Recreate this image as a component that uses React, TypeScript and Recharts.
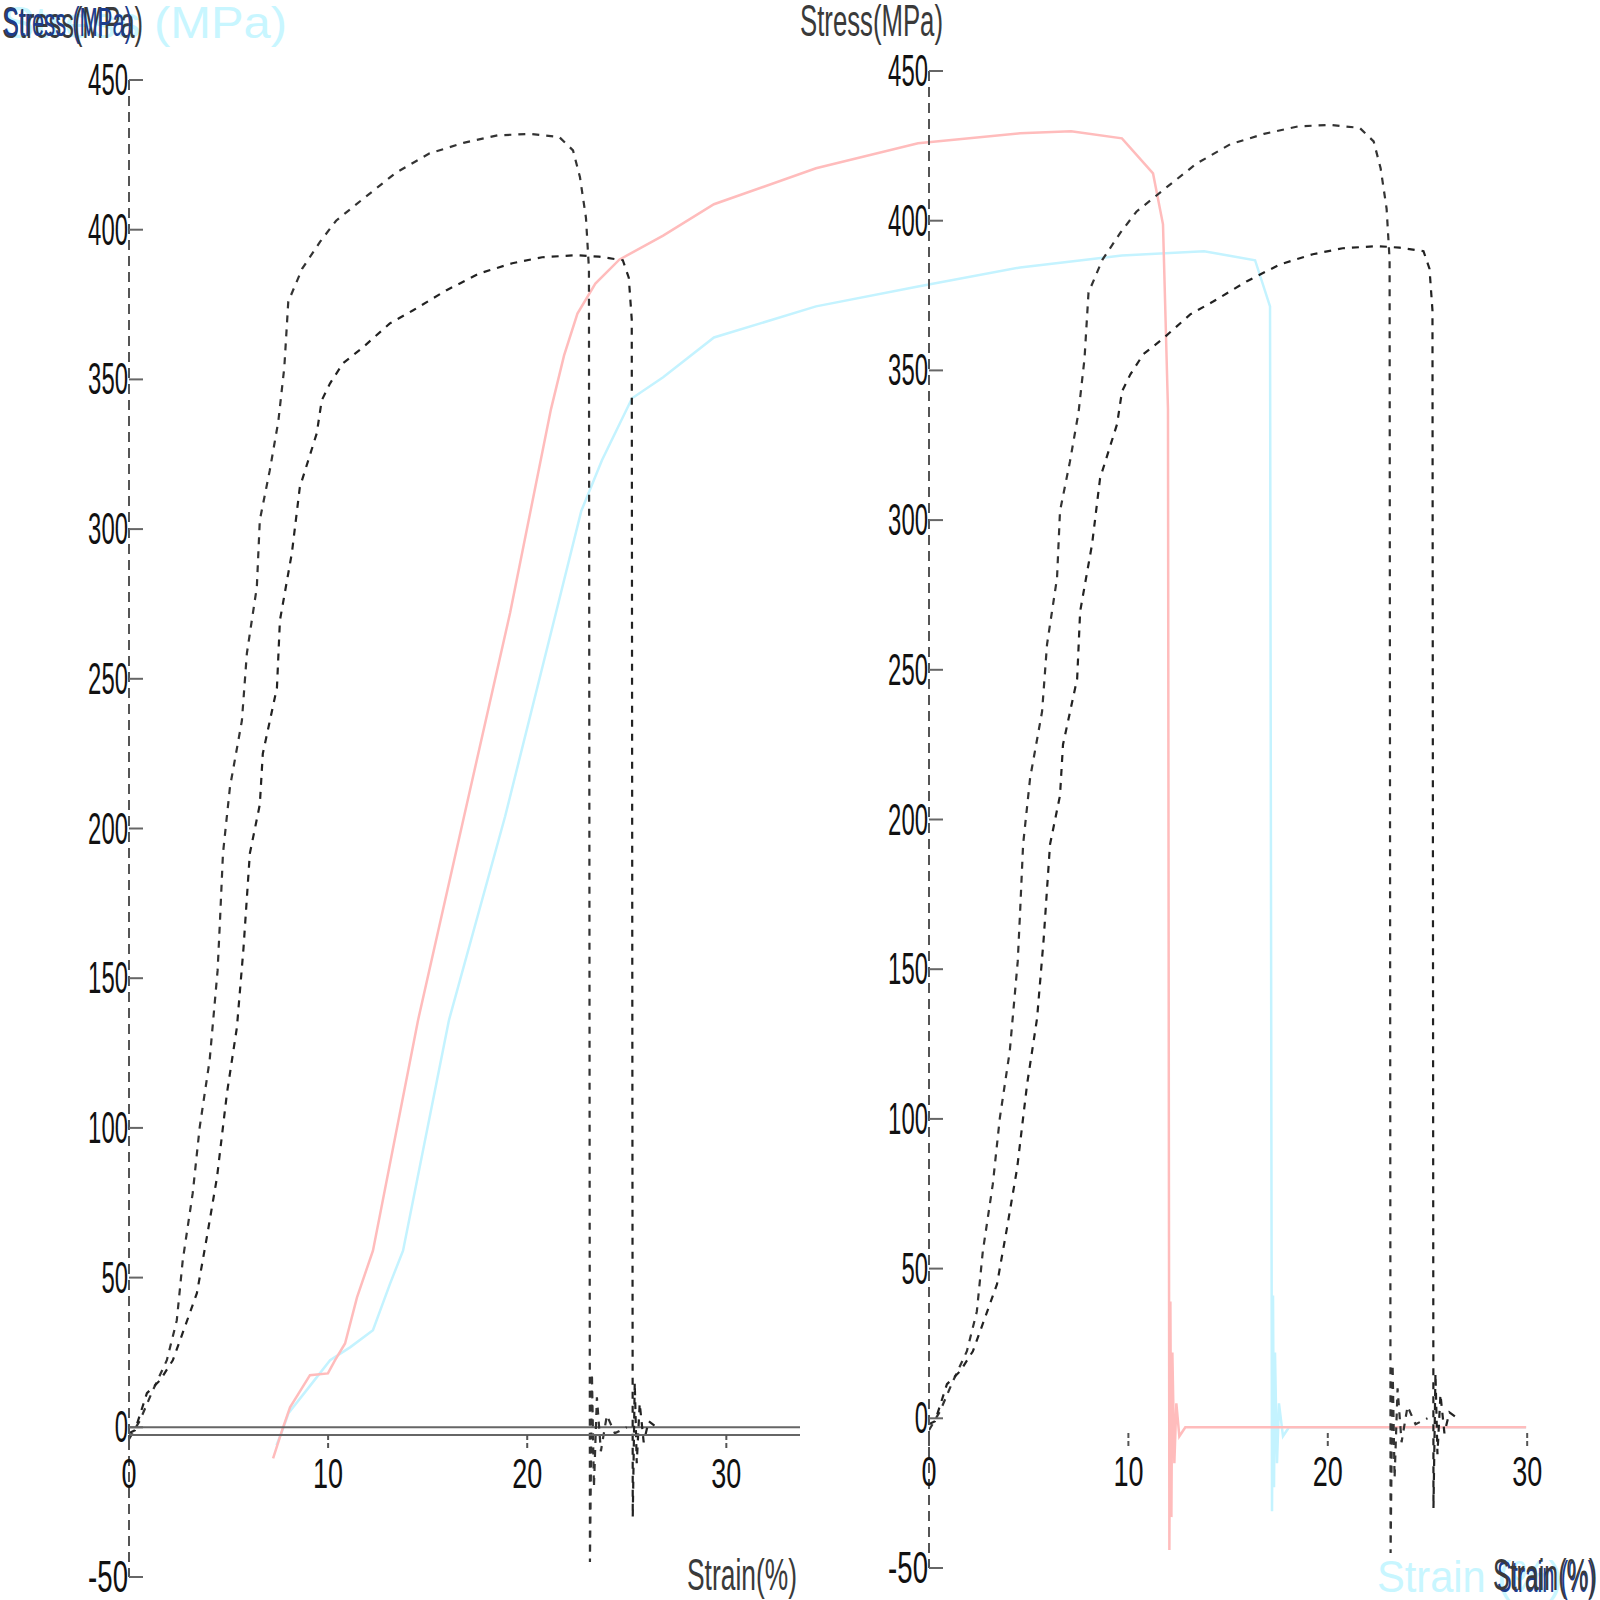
import { LineChart, Line, XAxis, YAxis, ReferenceLine } from "recharts";

// axis ticks
const stressTicks = [450, 400, 350, 300, 250, 200, 150, 100, 50, 0, -50];
const strainTicks = [0, 10, 20, 30];

// specimen A (upper dashed curve), strain % / stress MPa
const aStrain = [0, 0.55, 1.2, 1.9, 2.4, 2.7, 3.2, 3.55, 4.05, 4.45, 4.57, 4.72, 5.07, 5.67, 5.92, 6.42, 6.57, 7.07, 7.5, 7.8, 8.0, 8.7, 9.6, 10.4, 11.7, 13.4, 15.1, 16.8, 18.5, 20.1, 21.6, 22.3, 22.65, 22.95, 23.1, 23.15, 23.25, 23.35, 23.5, 23.7, 24.0, 24.4, 25.0];
const aStress = [-4, 2.3, 12.4, 22.4, 35.7, 55.8, 78.2, 100.2, 122.6, 152.6, 169.3, 191.7, 213.8, 236, 258.5, 280.6, 303, 319.6, 336, 354, 376, 387, 396, 403, 410, 419, 425.5, 429, 431.5, 432, 431, 426.5, 417.5, 404, 387, -45, 18, -20, 10, -8, 4, -2, 0];

// specimen B (lower dashed curve)
const bStrain = [0, 0.3, 0.9, 1.56, 2.2, 2.56, 3.41, 3.91, 4.42, 4.92, 5.42, 5.75, 6.07, 6.57, 6.72, 7.43, 7.58, 8.18, 8.58, 9.43, 9.68, 10.1, 10.75, 11.75, 13.1, 14.25, 15.95, 17.6, 19.25, 20.75, 22.5, 23.6, 24.8, 25.1, 25.25, 25.3, 25.4, 25.5, 25.65, 25.85, 26.1, 26.5];
const bStress = [-2, -1, 11.4, 15.7, 22.4, 29, 44.8, 63.5, 83.5, 111.6, 133.6, 160, 191.7, 208, 225, 247, 269.5, 292, 314, 332, 343, 348.7, 355.4, 360.7, 368.7, 373, 379.8, 385.4, 388.8, 390.8, 391.5, 391, 389.8, 384, 370, -30, 15, -12, 8, -5, 2, 0];

// pink test curve
const pinkStrain = [7.23, 7.68, 8.08, 9.08, 9.98, 10.34, 10.84, 11.44, 12.24, 14.5, 16.81, 19.12, 21.17, 21.83, 22.5, 23.4, 24.6, 26.8, 29.35, 34.47, 39.59, 44.71, 47.27, 49.82, 51.38, 51.88, 52.13, 52.2, 52.25, 52.3, 52.35, 52.45, 52.55, 52.7, 53.0, 70.1];
const pinkStress = [-10.4, -1, 6.7, 17.4, 18, 22.4, 28, 43.4, 59, 135.9, 204, 272, 340, 358, 372, 382, 390, 398, 408.5, 420.5, 428.9, 432.2, 432.9, 430.5, 418.8, 401.8, 340, -41, 42, -30, 25, -12, 8, -3, 0, 0];

// cyan test curve
const cyanStrain = [7.4, 7.7, 8.0, 9.1, 10.09, 11.09, 12.24, 13.1, 13.75, 16.05, 18.87, 21.42, 22.69, 23.73, 25.24, 26.8, 29.35, 34.47, 39.59, 44.71, 49.82, 53.94, 56.5, 57.25, 57.35, 57.4, 57.45, 57.5, 57.6, 57.7, 57.9, 58.2, 70.1];
const cyanStress = [-6, -1, 4.7, 14, 22.4, 26.7, 32.4, 48, 59, 135.9, 204, 272, 306, 323, 343.7, 350.7, 364, 374.4, 381, 387.4, 391.4, 392.8, 389.8, 374.4, -28, 44, -20, 25, -12, 8, -3, 0, 0];

const toPoints = (xs: number[], ys: number[]) => xs.map((x, i) => ({ strain: x, stress: ys[i] }));

const specA = toPoints(aStrain, aStress);
const specB = toPoints(bStrain, bStress);
const pink = toPoints(pinkStrain, pinkStress);
const cyan = toPoints(cyanStrain, cyanStress);

const FONT = '"Liberation Sans", Arial, sans-serif';

function StressTick({ x, y, payload }: any) {
  const label = String(payload.value);
  return (
    <g>
      <line x1={x} x2={x + 14} y1={y} y2={y} stroke="#666" strokeWidth={2} />
      <text
        x={x - 1}
        y={y + 15}
        textAnchor="end"
        fontSize={44}
        fontFamily={FONT}
        fill="#111"
        textLength={label.length * 13.3}
        lengthAdjust="spacingAndGlyphs"
      >
        {label}
      </text>
    </g>
  );
}

function StrainTick({ x, y, payload }: any) {
  const label = String(payload.value);
  return (
    <g>
      <line x1={x} x2={x} y1={y} y2={y + 14} stroke="#555" strokeWidth={2} strokeDasharray="5 3" />
      <text
        x={x}
        y={y + 53}
        textAnchor="middle"
        fontSize={42}
        fontFamily={FONT}
        fill="#111"
        textLength={label.length * 15}
        lengthAdjust="spacingAndGlyphs"
      >
        {label}
      </text>
    </g>
  );
}

const layer: React.CSSProperties = { position: "absolute", left: 0, top: 0 };
const dashAxis = { stroke: "#555", strokeWidth: 2, strokeDasharray: "10 6" };

export default function App() {
  return (
    <div style={{ position: "absolute", left: 0, top: 0, width: 1600, height: 1600, background: "#fff", overflow: "hidden" }}>
      {/* pink / cyan test curves, drawn on the left panel scale, running across both panels */}
      <div style={layer}>
        <LineChart width={1600} height={1600} margin={{ top: 80, left: 129, right: 36, bottom: 23 }}>
          <XAxis hide type="number" dataKey="strain" domain={[0, 72]} allowDataOverflow />
          <YAxis hide type="number" domain={[-50, 450]} />
          <Line data={cyan} dataKey="stress" stroke="#c4f3ff" strokeWidth={2.5} dot={false} isAnimationActive={false} />
          <Line data={pink} dataKey="stress" stroke="#ffbcbc" strokeWidth={2.5} dot={false} isAnimationActive={false} />
        </LineChart>
      </div>

      {/* left panel */}
      <div style={layer}>
        <LineChart width={1600} height={1600} margin={{ top: 80, left: 0, right: 800, bottom: 23 }}>
          <XAxis hide type="number" dataKey="strain" domain={[0, 33.7]} allowDataOverflow />
          <YAxis
            type="number"
            width={129}
            domain={[-50, 450]}
            ticks={stressTicks}
            interval={0}
            tickSize={0}
            tickMargin={0}
            tickLine={false}
            axisLine={dashAxis}
            tick={<StressTick />}
          />
          <ReferenceLine y={0} stroke="#666" strokeWidth={2} />
          <Line data={specA} dataKey="stress" stroke="#333" strokeWidth={2.2} strokeDasharray="7 7" dot={false} isAnimationActive={false} />
          <Line data={specB} dataKey="stress" stroke="#222" strokeWidth={2.2} strokeDasharray="7 7" dot={false} isAnimationActive={false} />
        </LineChart>
      </div>
      {/* left strain axis, sitting just under the zero line */}
      <div style={layer}>
        <LineChart width={1600} height={1600} data={specA} margin={{ top: 80, left: 129, right: 800, bottom: 0 }}>
          <XAxis
            type="number"
            dataKey="strain"
            domain={[0, 33.7]}
            allowDataOverflow
            ticks={strainTicks}
            interval={0}
            height={165}
            tickSize={0}
            tickMargin={0}
            tickLine={false}
            axisLine={{ stroke: "#666", strokeWidth: 2 }}
            tick={(p: any) => <StrainTick {...p} />}
          />
          <YAxis hide type="number" domain={[-2.5, 450]} allowDataOverflow />
        </LineChart>
      </div>

      {/* right panel */}
      <div style={layer}>
        <LineChart width={1600} height={1600} margin={{ top: 71, left: 0, right: 13, bottom: 32 }}>
          <XAxis hide type="number" dataKey="strain" domain={[0, 33]} allowDataOverflow />
          <YAxis
            type="number"
            width={929}
            domain={[-50, 450]}
            ticks={stressTicks}
            interval={0}
            tickSize={0}
            tickMargin={0}
            tickLine={false}
            axisLine={dashAxis}
            tick={<StressTick />}
          />
          <Line data={specA} dataKey="stress" stroke="#333" strokeWidth={2.2} strokeDasharray="7 7" dot={false} isAnimationActive={false} />
          <Line data={specB} dataKey="stress" stroke="#222" strokeWidth={2.2} strokeDasharray="7 7" dot={false} isAnimationActive={false} />
        </LineChart>
      </div>
      {/* right strain axis */}
      <div style={layer}>
        <LineChart width={1600} height={1600} data={specB} margin={{ top: 71, left: 929, right: 13, bottom: 0 }}>
          <XAxis
            type="number"
            dataKey="strain"
            domain={[0, 33]}
            allowDataOverflow
            ticks={strainTicks}
            interval={0}
            height={167}
            tickSize={0}
            tickMargin={0}
            tickLine={false}
            axisLine={false}
            tick={(p: any) => <StrainTick {...p} />}
          />
          <YAxis hide type="number" domain={[-2.5, 450]} allowDataOverflow />
        </LineChart>
      </div>

      {/* axis titles */}
      <svg width={1600} height={1600} style={{ ...layer, pointerEvents: "none" }} fontFamily={FONT}>
        <text x={2} y={38} fontSize={44} fill="#c8f6ff" textLength={285} lengthAdjust="spacingAndGlyphs">Stress (MPa)</text>
        <text x={2} y={38} fontSize={44} fill="#3a3a3a" textLength={141} lengthAdjust="spacingAndGlyphs">Stress(MPa)</text>
        <text x={4} y={36} fontSize={40} fill="#1c3c8c" textLength={128} lengthAdjust="spacingAndGlyphs">Stress (MPa)</text>
        <text x={800} y={36} fontSize={44} fill="#3a3a3a" textLength={143} lengthAdjust="spacingAndGlyphs">Stress(MPa)</text>
        <text x={687} y={1590} fontSize={44} fill="#3a3a3a" textLength={110} lengthAdjust="spacingAndGlyphs">Strain(%)</text>
        <text x={1377} y={1592} fontSize={44} fill="#c8f6ff" textLength={185} lengthAdjust="spacingAndGlyphs">Strain (%)</text>
        <text x={1497} y={1592} fontSize={44} fill="#1c3c8c" textLength={98} lengthAdjust="spacingAndGlyphs">Strain (%)</text>
        <text x={1493} y={1590} fontSize={44} fill="#3a3a3a" textLength={104} lengthAdjust="spacingAndGlyphs">Strain(%)</text>
      </svg>
    </div>
  );
}
